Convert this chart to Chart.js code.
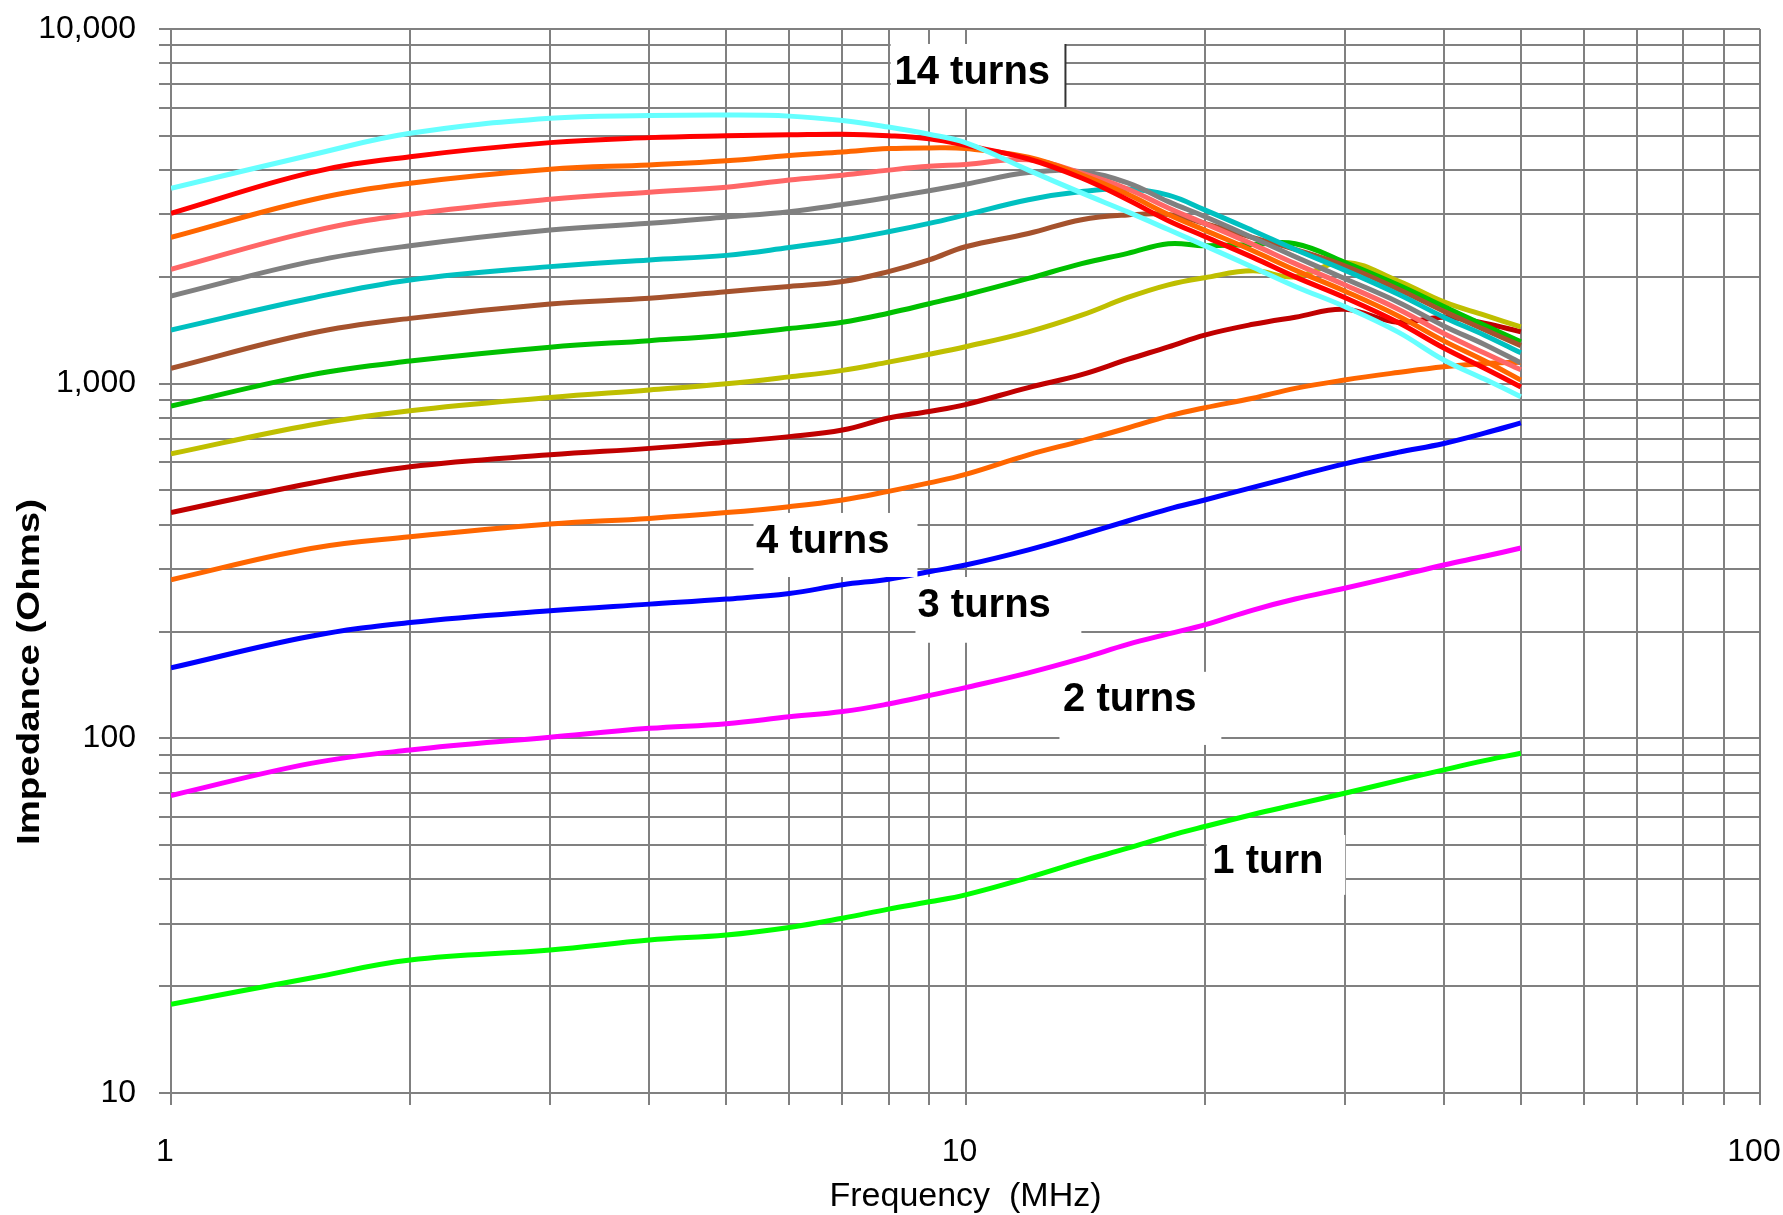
<!DOCTYPE html>
<html>
<head>
<meta charset="utf-8">
<title>Impedance vs Frequency</title>
<script src="https://cdn.jsdelivr.net/npm/chart.js@4.4.1/dist/chart.umd.min.js"></script>
<style>
  html, body { margin: 0; padding: 0; background: #fff; }
  #chart { display: block; }
</style>
</head>
<body>
<canvas id="chart" width="1783" height="1215"></canvas>
<script>
// frequency points (MHz) shared by every curve
const freqMHz = [1, 1.5, 2, 3, 4, 5, 6, 7, 8, 9, 10, 12, 14, 16, 18, 20, 23, 26, 30, 35, 40, 45, 50];

// impedance (ohms), one array per winding count
const turns1  = [17.8, 21.1, 23.7, 25.3, 27.0, 27.9, 29.3, 31.1, 33.0, 34.6, 36.2, 40.5, 45, 49, 53, 56.4, 61, 65, 70, 76, 81.5, 86.5, 90.8];
const turns2  = [69, 85, 92.7, 100.7, 106.7, 110, 115, 119, 125, 132, 139, 153, 168, 184, 197, 209, 230, 247, 265, 287, 308, 326, 344];
const turns3  = [158, 194, 212, 229, 239, 247, 256, 271, 281, 295, 308, 340, 375, 410, 443, 470, 510, 548, 594, 640, 678, 725, 775];
const turns4  = [280, 343, 370, 402, 417, 433, 450, 470, 497, 525, 555, 630, 690, 750, 810, 855, 910, 970, 1024, 1075, 1116, 1140, 1150];
const turns5  = [433, 524, 583, 630, 657, 684, 709, 740, 800, 835, 873, 975, 1060, 1170, 1270, 1371, 1470, 1540, 1620, 1490, 1540, 1480, 1400];
const turns6  = [634, 765, 839, 914, 960, 1000, 1045, 1090, 1150, 1210, 1271, 1400, 1560, 1750, 1900, 1990, 2080, 2000, 2200, 1950, 1700, 1560, 1445];
const turns7  = [865, 1059, 1158, 1267, 1322, 1370, 1430, 1490, 1580, 1680, 1778, 1980, 2180, 2330, 2480, 2450, 2470, 2480, 2200, 1900, 1650, 1460, 1312];
const turns8  = [1105, 1387, 1528, 1678, 1741, 1817, 1880, 1941, 2070, 2233, 2432, 2650, 2900, 2990, 3000, 2830, 2580, 2390, 2150, 1850, 1600, 1420, 1280];
const turns9  = [1417, 1741, 1961, 2138, 2233, 2300, 2420, 2540, 2680, 2830, 2991, 3300, 3480, 3540, 3400, 3090, 2700, 2390, 2090, 1790, 1540, 1370, 1222];
const turns10 = [1767, 2208, 2449, 2713, 2832, 2950, 3055, 3200, 3350, 3500, 3650, 3940, 3960, 3680, 3260, 2960, 2580, 2280, 1980, 1700, 1455, 1290, 1144];
const turns11 = [2101, 2683, 3004, 3311, 3467, 3580, 3752, 3870, 4000, 4100, 4150, 4280, 3920, 3540, 3130, 2830, 2470, 2180, 1900, 1625, 1385, 1220, 1094];
const turns12 = [2586, 3296, 3672, 4022, 4138, 4250, 4400, 4500, 4600, 4620, 4600, 4350, 3880, 3420, 3000, 2710, 2370, 2090, 1825, 1555, 1320, 1160, 1024];
const turns13 = [3022, 3936, 4365, 4782, 4940, 5000, 5030, 5050, 5000, 4900, 4700, 4300, 3800, 3300, 2880, 2600, 2270, 2000, 1750, 1490, 1260, 1105, 979];
const turns14 = [3556, 4413, 5080, 5600, 5700, 5720, 5680, 5520, 5290, 5050, 4780, 4000, 3450, 3050, 2720, 2450, 2130, 1880, 1650, 1400, 1166, 1030, 919];

const series = [turns1, turns2, turns3, turns4, turns5, turns6, turns7, turns8, turns9, turns10, turns11, turns12, turns13, turns14];
const seriesNames = ["1 turn", "2 turns", "3 turns", "4 turns", "5 turns", "6 turns", "7 turns",
                     "8 turns", "9 turns", "10 turns", "11 turns", "12 turns", "13 turns", "14 turns"];
const seriesColors = ["#00FF00", "#FF00FF", "#0000FF", "#FF6600", "#C00000", "#BFBF00", "#00C000",
                      "#A5522D", "#00C0C0", "#808080", "#FF6666", "#FF6600", "#FF0000", "#66FFFF"];

// grid / tick values
const xTickValues = [1, 2, 3, 4, 5, 6, 7, 8, 9, 10, 20, 30, 40, 50, 60, 70, 80, 90, 100];
const xTickLabels = { 1: "1", 10: "10", 100: "100" };
const yTickValues = [10, 20, 30, 40, 50, 60, 70, 80, 90, 100, 200, 300, 400, 500, 600, 700, 800, 900,
                     1000, 2000, 3000, 4000, 5000, 6000, 7000, 8000, 9000, 10000];
const yTickLabels = { 10: "10", 100: "100", 1000: "1,000", 10000: "10,000" };

// curve labels, placed in data units (MHz, ohms)
const curveLabels = [
  { text: "14 turns", box: [8.05, 13.36, 9073, 6026], at: [8.14, 7540], edge: true },
  { text: "4 turns",  box: [5.41, 8.70, 432, 285],    at: [5.45, 358] },
  { text: "3 turns",  box: [8.65, 13.99, 285, 186],   at: [8.70, 236] },
  { text: "2 turns",  box: [13.13, 20.99, 154, 95.8], at: [13.27, 128.3] },
  { text: "1 turn",   box: [20.1, 30.06, 53.4, 36.2], at: [20.45, 44.8] }
];

const FONT = "'Liberation Sans', Arial, sans-serif";

const labelPlugin = {
  id: "curveLabels",
  afterDatasetsDraw(chart) {
    const { ctx, scales: { x, y } } = chart;
    ctx.save();
    curveLabels.forEach(l => {
      const x1 = x.getPixelForValue(l.box[0]), x2 = x.getPixelForValue(l.box[1]);
      const y1 = y.getPixelForValue(l.box[2]), y2 = y.getPixelForValue(l.box[3]);
      ctx.fillStyle = "#ffffff";
      ctx.fillRect(x1, y1, x2 - x1, y2 - y1);
      if (l.edge) {
        ctx.strokeStyle = "#333333";
        ctx.lineWidth = 2;
        ctx.beginPath();
        ctx.moveTo(x2, y1);
        ctx.lineTo(x2, y2);
        ctx.stroke();
      }
      ctx.fillStyle = "#000000";
      ctx.font = "bold 40px " + FONT;
      ctx.textAlign = "left";
      ctx.textBaseline = "middle";
      ctx.fillText(l.text, x.getPixelForValue(l.at[0]), y.getPixelForValue(l.at[1]));
    });
    ctx.restore();
  },
  afterDraw(chart) {
    // y axis title sits below the middle of the axis, and is drawn stretched, in the original
    const { ctx } = chart;
    ctx.save();
    ctx.translate(30, 672);
    ctx.rotate(-Math.PI / 2);
    ctx.scale(1.24, 1);
    ctx.fillStyle = "#000000";
    ctx.font = "bold 31px " + FONT;
    ctx.textAlign = "center";
    ctx.textBaseline = "middle";
    ctx.fillText("Impedance (Ohms)", 0, 0);
    ctx.restore();
  }
};

const gridStyle = { color: "#808080", lineWidth: 2, tickLength: 12, tickColor: "#808080" };

new Chart(document.getElementById("chart"), {
  type: "line",
  data: {
    datasets: series.map((vals, i) => ({
      label: seriesNames[i],
      data: freqMHz.map((f, j) => ({ x: f, y: vals[j] })),
      borderColor: seriesColors[i],
      borderWidth: 5,
      pointRadius: 0,
      fill: false,
      tension: 0.4,
      order: series.length - i   // later series drawn on top, as in the original
    }))
  },
  options: {
    responsive: false,
    animation: false,
    devicePixelRatio: 1,
    layout: { padding: { top: 29, right: 23, left: 0, bottom: 0 } },
    plugins: { legend: { display: false }, tooltip: { enabled: false } },
    scales: {
      x: {
        type: "logarithmic",
        min: 1, max: 100,
        afterBuildTicks: s => { s.ticks = xTickValues.map(v => ({ value: v })); },
        afterFit: s => { s.height = 122; s.paddingLeft = 0; s.paddingRight = 0; },
        grid: gridStyle,
        border: { color: "#808080", width: 2 },
        ticks: {
          autoSkip: false, maxRotation: 0, padding: 28, labelOffset: -6,
          color: "#000", font: { family: FONT, size: 32 },
          callback: v => xTickLabels[v] || ""
        },
        title: {
          display: true, text: "Frequency  (MHz)", color: "#000",
          font: { family: FONT, size: 34, lineHeight: 1 }, padding: { top: 0, bottom: 1 }
        }
      },
      y: {
        type: "logarithmic",
        min: 10, max: 10000,
        afterBuildTicks: s => { s.ticks = yTickValues.map(v => ({ value: v })); },
        afterFit: s => { s.width = 171; s.paddingTop = 0; s.paddingBottom = 0; },
        grid: gridStyle,
        border: { color: "#808080", width: 2 },
        ticks: {
          autoSkip: false, padding: 23,
          color: "#000", font: { family: FONT, size: 32 },
          callback: v => yTickLabels[v] || ""
        }
      }
    }
  },
  plugins: [labelPlugin]
});
</script>
</body>
</html>
